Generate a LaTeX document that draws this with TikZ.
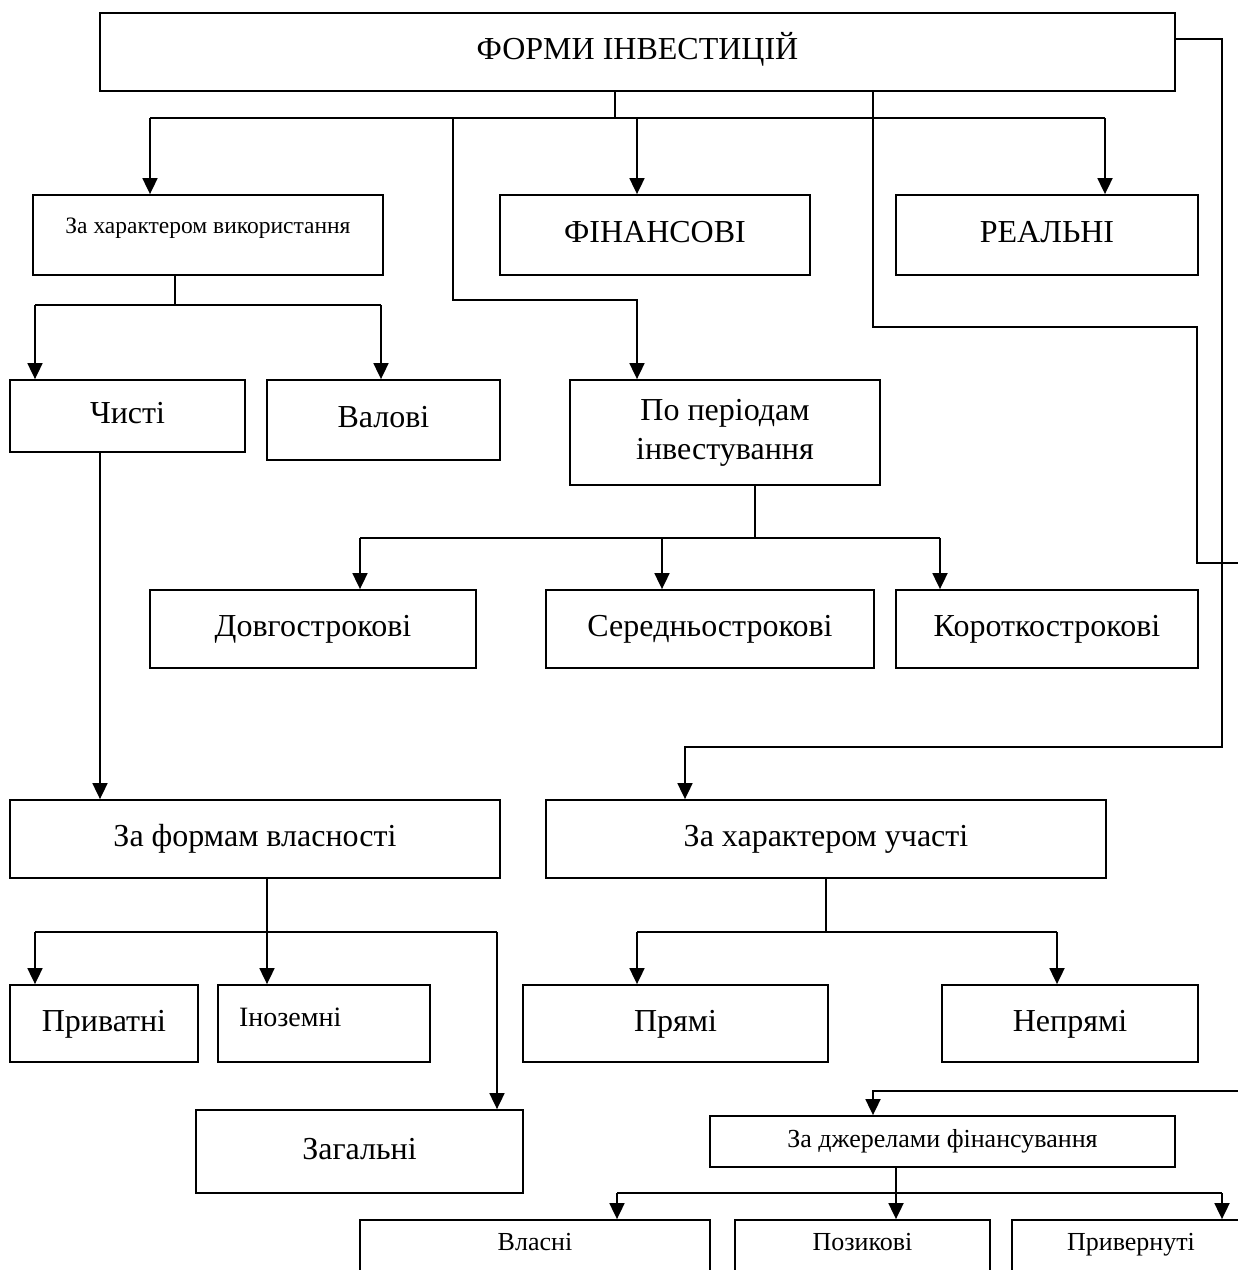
\documentclass[tikz,border=0pt]{standalone}
\usepackage{fontspec}
\setmainfont{Liberation Serif}
\usepackage{tikz}
\usetikzlibrary{arrows.meta,positioning,calc}

\begin{document}
\begin{tikzpicture}[
  x=1pt, y=-1pt,
  basebox/.style={rectangle, draw=black, line width=1.8pt, inner sep=0pt,
                 align=center, font=\fontsize{32}{39}\selectfont},
  formbox/.style={basebox, text height=22, text depth=7},
  smallbox/.style={basebox, font=\fontsize{26}{30}\selectfont,
                 text height=17, text depth=6},
  line/.style={line width=1.8pt},
  arr/.style={-{Triangle[width=15pt,length=16pt]}, line width=1.8pt}
]
\useasboundingbox (0,0) rectangle (1238,1270);
\clip (0,0) rectangle (1238,1270);

\node[formbox, minimum width=1075, minimum height=78] (forms) at (637.5,52) {ФОРМИ ІНВЕСТИЦІЙ};

\node[smallbox, font=\fontsize{23.5}{28}\selectfont, minimum width=350, minimum height=80,
      text height=16, text depth=20] (vykor) at (208,235) {За характером використання};
\node[formbox, minimum width=310, minimum height=80] (fin)  at (655,235)  {ФІНАНСОВІ};
\node[formbox, minimum width=302, minimum height=80] (real) at (1047,235) {РЕАЛЬНІ};

\node[formbox, minimum width=235, minimum height=72]  (chysti)  at (127.5,416) {Чисті};
\node[formbox, minimum width=233, minimum height=80]  (valovi)  at (383.5,420) {Валові};
\node[basebox, minimum width=310, minimum height=105] (periody) at (725,432.5) {По періодам\\інвестування};

\node[formbox, minimum width=326, minimum height=78] (dovho)  at (313,629)  {Довгострокові};
\node[formbox, minimum width=328, minimum height=78] (seredn) at (710,629)  {Середньострокові};
\node[formbox, minimum width=302, minimum height=78] (korotk) at (1047,629) {Короткострокові};

\node[formbox, minimum width=490, minimum height=78] (vlasn)  at (255,839) {За формам власності};
\node[formbox, minimum width=560, minimum height=78] (uchast) at (826,839) {За характером участі};

\node[formbox, minimum width=188, minimum height=77] (pryvat) at (104,1023.5) {Приватні};
\node[formbox, font=\fontsize{28}{34}\selectfont, minimum width=212, minimum height=77,
      text width=170, align=left, text height=20, text depth=14] (inozem) at (324,1023.5) {Іноземні};
\node[formbox, minimum width=327, minimum height=83] (zahal)  at (359.5,1151.5) {Загальні};
\node[formbox, minimum width=305, minimum height=77] (pryami)   at (675.5,1023.5) {Прямі};
\node[formbox, minimum width=256, minimum height=77] (nepryami) at (1070,1023.5)  {Непрямі};

\node[smallbox, minimum width=465, minimum height=51] (dzherela) at (942.5,1141.5) {За джерелами фінансування};
\node[smallbox, minimum width=350, minimum height=60, text depth=16] (vlasni)  at (535,1250)  {Власні};
\node[smallbox, minimum width=255, minimum height=60, text depth=16] (pozyk)   at (862.5,1250) {Позикові};
\node[smallbox, minimum width=238, minimum height=60, text depth=16] (pryvern) at (1131,1250)  {Привернуті};

%% junction points
\coordinate (t1) at (615,118);
\coordinate (b1) at (150,118);
\coordinate (b2) at (637,118);
\coordinate (b3) at (1105,118);
\coordinate (b4) at (453,118);
\coordinate (k2) at (637,300);
\coordinate (r1) at (873,327);
\coordinate (r2) at (1197,563);
\coordinate (r3) at (1240,563);
\coordinate (s0) at (1222,39);
\coordinate (s1) at (1222,747);
\coordinate (s2) at (685,747);
\coordinate (v0) at (175,305);
\coordinate (v1) at (35,305);
\coordinate (v2) at (381,305);
\coordinate (p0) at (755,538);
\coordinate (p1) at (360,538);
\coordinate (p2) at (662,538);
\coordinate (p3) at (940,538);
\coordinate (c0) at (100,800);
\coordinate (w0) at (267,932);
\coordinate (w1) at (35,932);
\coordinate (w2) at (497,932);
\coordinate (u0) at (826,932);
\coordinate (u1) at (637,932);
\coordinate (u2) at (1057,932);
\coordinate (d0) at (1240,1091);
\coordinate (d1) at (873,1091);
\coordinate (e0) at (896,1193);
\coordinate (e1) at (617,1193);
\coordinate (e2) at (1222,1193);

%% arrows
\draw[line] (forms.south -| t1) -- (t1);
\draw[line] (b1) -- (b3);
\draw[arr] (b1) -- (vykor.north -| b1);
\draw[arr] (b2) -- (fin.north -| b2);
\draw[arr] (b3) -- (real.north -| b3);
\draw[arr] (b4) |- (k2) -- (periody.north -| k2);
\draw[line] (forms.south -| r1) -- (r1) -| (r2) -- (r3);
\draw[arr] (forms.east |- s0) -| (s1) -| (uchast.north -| s2);

\draw[line] (vykor.south -| v0) -- (v0);
\draw[line] (v1) -- (v2);
\draw[arr] (v1) -- (chysti.north -| v1);
\draw[arr] (v2) -- (valovi.north -| v2);

\draw[line] (periody.south -| p0) -- (p0);
\draw[line] (p1) -- (p3);
\draw[arr] (p1) -- (dovho.north -| p1);
\draw[arr] (p2) -- (seredn.north -| p2);
\draw[arr] (p3) -- (korotk.north -| p3);

\draw[arr] (chysti.south -| c0) -- (vlasn.north -| c0);

\draw[line] (vlasn.south -| w0) -- (w0);
\draw[line] (w1) -- (w2);
\draw[arr] (w1) -- (pryvat.north -| w1);
\draw[arr] (w0) -- (inozem.north -| w0);
\draw[arr] (w2) -- (zahal.north -| w2);

\draw[line] (uchast.south -| u0) -- (u0);
\draw[line] (u1) -- (u2);
\draw[arr] (u1) -- (pryami.north -| u1);
\draw[arr] (u2) -- (nepryami.north -| u2);

\draw[arr] (d0) -- (d1) -- (dzherela.north -| d1);
\draw[line] (dzherela.south -| e0) -- (e0);
\draw[line] (e1) -- (e2);
\draw[arr] (e1) -- (vlasni.north -| e1);
\draw[arr] (e0) -- (pozyk.north -| e0);
\draw[arr] (e2) -- (pryvern.north -| e2);

\end{tikzpicture}
\end{document}
